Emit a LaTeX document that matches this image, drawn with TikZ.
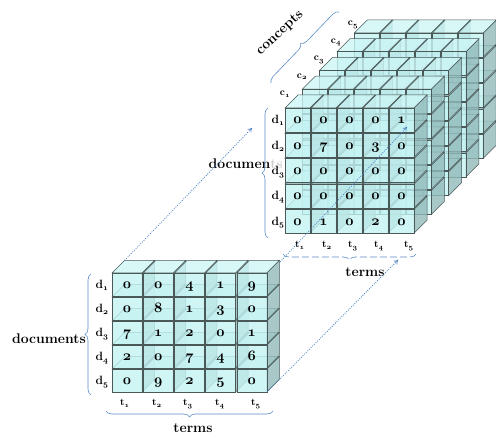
\documentclass[tikz,border=0pt]{standalone}
\usetikzlibrary{decorations.pathreplacing,arrows.meta}
\definecolor{frontc}{HTML}{C4F2F2}
\definecolor{topc}{HTML}{CEF6F6}
\definecolor{sidec}{HTML}{92BABA}
\definecolor{edgec}{HTML}{4A5858}
\definecolor{bracec}{HTML}{5B8CC8}
\definecolor{arrowc}{HTML}{4A80C4}
\newcommand\cubeat[5]{%
  \filldraw[cubeedge,fill=sidec] (#1+#3,#2) -- ++(#5,-#5) -- ++(0,#4) -- ++(-#5,#5) -- cycle;
  \filldraw[cubeedge,fill=topc] (#1,#2) -- ++(#5,-#5) -- ++(#3,0) -- ++(-#5,#5) -- cycle;
  \filldraw[cubeedge,fill=frontc] (#1,#2) rectangle ++(#3,#4);
}
\newcommand\onum[1]{{\usefont{OML}{cmm}{b}{it}#1}}
\tikzset{
  cubeedge/.style={draw=edgec,line width=0.5pt,fill opacity=0.8},
  numlabel/.style={anchor=base,inner sep=0pt,font=\fontsize{14}{16}\selectfont\bfseries},
  dlabel/.style={anchor=base,inner sep=0pt,font=\fontsize{12}{13}\selectfont\bfseries},
  tlabel/.style={anchor=base,inner sep=0pt,font=\fontsize{10}{11}\selectfont\bfseries},
  axislabel/.style={inner sep=0pt,font=\fontsize{14}{16}\selectfont\bfseries},
  bracedraw/.style={draw=bracec,line width=0.6pt,decorate,decoration={brace,amplitude=6pt}},
  dotarrow/.style={draw=arrowc,line width=0.75pt,dash pattern=on 1pt off 1.3pt,-{To[length=4pt,width=5pt]}},
}
\begin{document}
\begin{tikzpicture}[x=1pt,y=-1pt]
\useasboundingbox (0,0) rectangle (496,438);

% ---------- small grid ----------
\foreach \r in {4,3,2,1,0} {
  \foreach \c in {0,...,4} {
    \pgfmathsetmacro\xx{112+31.2*\c}
    \pgfmathsetmacro\yy{273+24*\r}
    \cubeat{\xx}{\yy}{30}{23}{12.5}
  }
}
\foreach \row [count=\r from 0] in {{0,0,4,1,9},{0,8,1,3,0},{7,1,2,0,1},{2,0,7,4,6},{0,9,2,5,0}} {
  \foreach \v [count=\c from 0] in \row {
    \node[numlabel] (sn-\r-\c) at ({127+31.2*\c},{273+24*\r+15.5}) {\onum{\v}};
  }
}
\foreach \i in {1,...,5} {
  \node[dlabel] (sd\i) at (102,{273+24*(\i-1)+15.5}) {d\textsubscript{\onum{\i}}};
}
\foreach \x [count=\i] in {125,157,188,220,256} {
  \node[tlabel] (st\i) at (\x,406) {t\textsubscript{\onum{\i}}};
}
\coordinate (sbl) at (91,395);
\coordinate (stl) at (91,274);
\draw[bracedraw] (sbl) -- (stl);
\coordinate (sbr) at (273,411);
\coordinate (sbb) at (106,411);
\draw[bracedraw] (sbr) -- (sbb);
\node[axislabel,anchor=base east] (sdoc) at (86,344) {documents};
\node[axislabel,anchor=base] (sterm) at (193,433) {terms};

% ---------- big cube ----------
\node[axislabel,anchor=base east] (bdoc) at (283,169) {documen\textcolor{gray!40}{ts}};
\foreach \L in {4,3,2,1,0} {
  \foreach \r in {4,3,2,1,0} {
    \foreach \c in {0,...,4} {
      \pgfmathsetmacro\xx{285+26*\c+17.3*\L}
      \pgfmathsetmacro\yy{108+25.3*\r-18.75*\L}
      \cubeat{\xx}{\yy}{25}{24}{13}
    }
  }
}
\foreach \row [count=\r from 0] in {{0,0,0,0,1},{0,7,0,3,0},{0,0,0,0,0},{0,0,0,0,0},{0,1,0,2,0}} {
  \foreach \v [count=\c from 0] in \row {
    \node[numlabel] (bn-\r-\c) at ({297.5+26*\c},{108+25.3*\r+16}) {\onum{\v}};
  }
}
\foreach \i in {1,...,5} {
  \node[dlabel] (bd\i) at (278,{108+25.3*(\i-1)+16}) {d\textsubscript{\onum{\i}}};
}
\foreach \x [count=\i] in {300,327,353,379,409} {
  \node[tlabel] (bt\i) at (\x,248) {t\textsubscript{\onum{\i}}};
}
\foreach \i in {1,...,5} {
  \node[tlabel] (bc\i) at ({285+17*(\i-1)},{96-17.5*(\i-1)}) {c\textsubscript{\onum{\i}}};
}
\coordinate (bbl) at (268,238);
\coordinate (btl) at (268,108);
\draw[bracedraw] (bbl) -- (btl);
\coordinate (bbr) at (416,254);
\coordinate (bbb) at (283,254);
\draw[bracedraw,dash pattern=on 7pt off 3pt] (bbr) -- (bbb);
\coordinate (bcl) at (271,83);
\coordinate (bcu) at (339,12);
\draw[bracedraw] (bcl) -- (bcu);
\node[axislabel,anchor=base] (bterm) at (365,277) {terms};
\node[axislabel,rotate=43] (bconc) at (280,33) {concepts};

% ---------- dotted arrows ----------
\coordinate (a1s) at (124.5,260.5);
\coordinate (a1e) at (252,128);
\coordinate (a2s) at (267,392);
\coordinate (a2e) at (398,260);
\coordinate (a3s) at (280,262);
\coordinate (a3e) at (407,127);
\draw[dotarrow] (a1s) -- (a1e);
\draw[dotarrow] (a2s) -- (a2e);
\draw[dotarrow] (a3s) -- (a3e);
\end{tikzpicture}
\end{document}
